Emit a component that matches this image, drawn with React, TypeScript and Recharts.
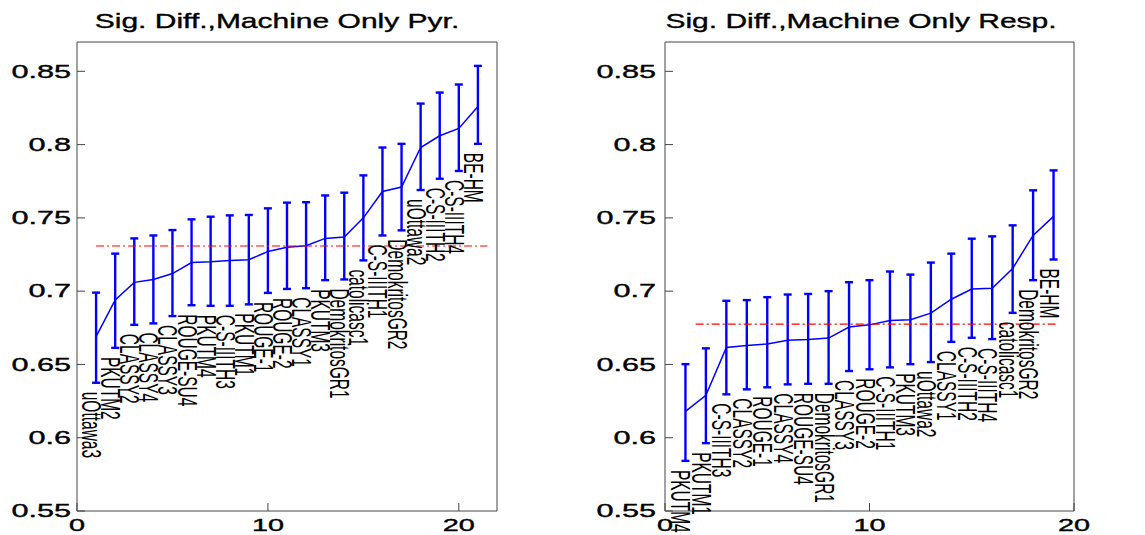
import {
  ComposedChart,
  Line,
  ErrorBar,
  XAxis,
  YAxis,
  ReferenceLine,
  LabelList,
} from "recharts";

const FONT = '"Liberation Sans", Arial, Helvetica, sans-serif';
const BLUE = "#0000ff";
const BOX = "#444444";

// y axis shared by both panels
const yTicks = [0.55, 0.6, 0.65, 0.7, 0.75, 0.8, 0.85];
const yDomain = [0.55, 0.87];
const xTicks = [0, 10, 20];

// left panel: pyramid
const pyrNames = [
  "uOttawa3", "PKUTM2", "CLASSY2", "CLASSY4", "CLASSY3", "ROUGE-SU4", "PKUTM4",
  "C-S-IIITH3", "PKUTM1", "ROUGE-1", "ROUGE-2", "CLASSY1", "PKUTM3", "DemokritosGR1",
  "catolicasc1", "C-S-IIITH1", "DemokritosGR2", "uOttawa2", "C-S-IIITH2", "C-S-IIITH4", "BE-HM",
];
const pyrMean = [
  0.669, 0.694, 0.706, 0.708, 0.712, 0.7195, 0.72, 0.721, 0.7215, 0.727, 0.73,
  0.731, 0.736, 0.737, 0.75, 0.768, 0.771, 0.798, 0.806, 0.811, 0.826,
];
const pyrHigh = [
  0.699, 0.7256, 0.736, 0.738, 0.7417, 0.749, 0.7508, 0.7517, 0.752, 0.7565, 0.7604,
  0.7607, 0.7653, 0.7672, 0.779, 0.798, 0.8005, 0.828, 0.8355, 0.841, 0.8537,
];
const pyrLow = [
  0.6375, 0.6613, 0.677, 0.678, 0.683, 0.6904, 0.69, 0.69, 0.691, 0.6988, 0.7015,
  0.702, 0.7075, 0.708, 0.721, 0.738, 0.7415, 0.769, 0.7767, 0.782, 0.8005,
];
const pyrRef = 0.7308;
const pyrRefSpan = [1, 21.5];

// right panel: responsiveness
const respNames = [
  "PKUTM4", "PKUTM1", "C-S-IIITH3", "CLASSY2", "ROUGE-1", "CLASSY4", "ROUGE-SU4",
  "DemokritosGR1", "CLASSY3", "ROUGE-2", "C-S-IIITH1", "PKUTM3", "uOttawa2", "CLASSY1",
  "C-S-IIITH2", "C-S-IIITH4", "catolicasc1", "DemokritosGR2", "BE-HM",
];
const respMean = [
  0.618, 0.629, 0.6616, 0.663, 0.664, 0.6665, 0.667, 0.668, 0.6755, 0.677,
  0.68, 0.6805, 0.685, 0.6945, 0.7015, 0.702, 0.7155, 0.738, 0.751,
];
const respHigh = [
  0.6502, 0.661, 0.6934, 0.6939, 0.6959, 0.6977, 0.6981, 0.7, 0.7061, 0.7075,
  0.7134, 0.7113, 0.7195, 0.7256, 0.7358, 0.7374, 0.7449, 0.7688, 0.7824,
];
const respLow = [
  0.5842, 0.5963, 0.6296, 0.633, 0.6344, 0.6364, 0.6368, 0.6368, 0.6455, 0.6467,
  0.648, 0.6502, 0.6516, 0.6654, 0.6682, 0.6673, 0.6852, 0.7075, 0.7216,
];
const respRef = 0.6775;
const respRefSpan = [1.5, 19.1];

function buildRows(names: string[], mean: number[], hi: number[], lo: number[]) {
  return names.map((name, i) => ({
    x: i + 1,
    name,
    mean: mean[i],
    lo: lo[i],
    err: [mean[i] - lo[i], hi[i] - mean[i]],
  }));
}

// the original figure is stretched sideways, so text gets a horizontal scale
const YTick = ({ x, y, payload, gap }: any) => (
  <g>
    <line x1={x} x2={x + 8} y1={y} y2={y} stroke={BOX} />
    <text
      transform={`translate(${x - gap},${y}) scale(1.75,1)`}
      textAnchor="end"
      dominantBaseline="central"
      fontFamily={FONT}
      fontSize={17.5}
      fill="#000"
      stroke="#000"
      strokeWidth={0.35}
    >
      {String(payload.value)}
    </text>
  </g>
);

const XTick = ({ x, y, payload }: any) => (
  <g>
    <line x1={x} x2={x} y1={y} y2={y - 8} stroke={BOX} />
    <text
      transform={`translate(${x},${y + 20}) scale(1.8,1)`}
      textAnchor="middle"
      fontFamily={FONT}
      fontSize={16}
      fill="#000"
      stroke="#000"
      strokeWidth={0.35}
    >
      {String(payload.value)}
    </text>
  </g>
);

// system names written downward under each error bar
const NameLabel = (props: any) => {
  const { x, y, value } = props;
  if (x == null || y == null) return null;
  return (
    <text
      transform={`translate(${x - 14},${y + 9}) rotate(90) scale(1,1.8)`}
      fontFamily={FONT}
      fontSize={15.5}
      fill="#000"
    >
      {value}
    </text>
  );
};

interface PanelProps {
  rows: ReturnType<typeof buildRows>;
  width: number;
  yAxisWidth: number;
  rightMargin: number;
  xMax: number;
  refY: number;
  refSpan: number[];
  labelGap: number;
}

function Panel({ rows, width, yAxisWidth, rightMargin, xMax, refY, refSpan, labelGap }: PanelProps) {
  return (
    <ComposedChart
      width={width}
      height={535}
      data={rows}
      margin={{ top: 42, right: rightMargin, left: 0, bottom: 0 }}
    >
      <XAxis
        type="number"
        dataKey="x"
        domain={[0, xMax]}
        ticks={xTicks}
        allowDataOverflow
        height={24}
        tickLine={false}
        tickSize={0}
        tickMargin={0}
        axisLine={{ stroke: BOX }}
        tick={<XTick />}
      />
      <XAxis
        xAxisId="top"
        orientation="top"
        mirror
        type="number"
        dataKey="x"
        domain={[0, xMax]}
        ticks={xTicks}
        allowDataOverflow
        tick={false}
        tickSize={8}
        stroke={BOX}
      />
      <YAxis
        type="number"
        domain={yDomain}
        ticks={yTicks}
        allowDataOverflow
        width={yAxisWidth}
        tickLine={false}
        tickSize={0}
        tickMargin={0}
        axisLine={{ stroke: BOX }}
        tick={<YTick gap={labelGap} />}
      />
      <YAxis
        yAxisId="right"
        orientation="right"
        mirror
        type="number"
        domain={yDomain}
        ticks={yTicks}
        allowDataOverflow
        tick={false}
        tickSize={8}
        stroke={BOX}
      />
      <Line
        dataKey="lo"
        stroke="none"
        dot={false}
        activeDot={false}
        isAnimationActive={false}
      >
        <LabelList dataKey="name" content={<NameLabel />} />
      </Line>
      <Line
        dataKey="mean"
        stroke={BLUE}
        strokeWidth={1.5}
        dot={false}
        activeDot={false}
        isAnimationActive={false}
      >
        <ErrorBar
          dataKey="err"
          direction="y"
          width={4}
          stroke={BLUE}
          strokeWidth={2.4}
          isAnimationActive={false}
        />
      </Line>
      <ReferenceLine
        segment={[
          { x: refSpan[0], y: refY },
          { x: refSpan[1], y: refY },
        ]}
        stroke="#ff0000"
        strokeWidth={1.2}
        strokeDasharray="8 3 2 3"
      />
    </ComposedChart>
  );
}

export default function App() {
  const pyrRows = buildRows(pyrNames, pyrMean, pyrHigh, pyrLow);
  const respRows = buildRows(respNames, respMean, respHigh, respLow);

  return (
    <div
      style={{
        position: "absolute",
        left: 0,
        top: 0,
        width: 1145,
        height: 535,
        background: "#fff",
        overflow: "hidden",
      }}
    >
      <div style={{ position: "absolute", left: 0, top: 0 }}>
        <Panel
          rows={pyrRows}
          width={560}
          yAxisWidth={77}
          rightMargin={63}
          xMax={22}
          refY={pyrRef}
          refSpan={pyrRefSpan}
          labelGap={6}
        />
      </div>
      <div style={{ position: "absolute", left: 570, top: 0 }}>
        <Panel
          rows={respRows}
          width={575}
          yAxisWidth={95}
          rightMargin={71}
          xMax={20}
          refY={respRef}
          refSpan={respRefSpan}
          labelGap={9}
        />
      </div>
      <svg
        width={1145}
        height={535}
        style={{ position: "absolute", left: 0, top: 0, pointerEvents: "none" }}
      >
        <text
          transform="translate(277,28) scale(1.5,1)"
          textAnchor="middle"
          fontFamily={FONT}
          fontSize={20}
          fill="#000"
          stroke="#000"
          strokeWidth={0.35}
        >
          Sig. Diff.,Machine Only Pyr.
        </text>
        <text
          transform="translate(861,28) scale(1.5,1)"
          textAnchor="middle"
          fontFamily={FONT}
          fontSize={20}
          fill="#000"
          stroke="#000"
          strokeWidth={0.35}
        >
          Sig. Diff.,Machine Only Resp.
        </text>
      </svg>
    </div>
  );
}
